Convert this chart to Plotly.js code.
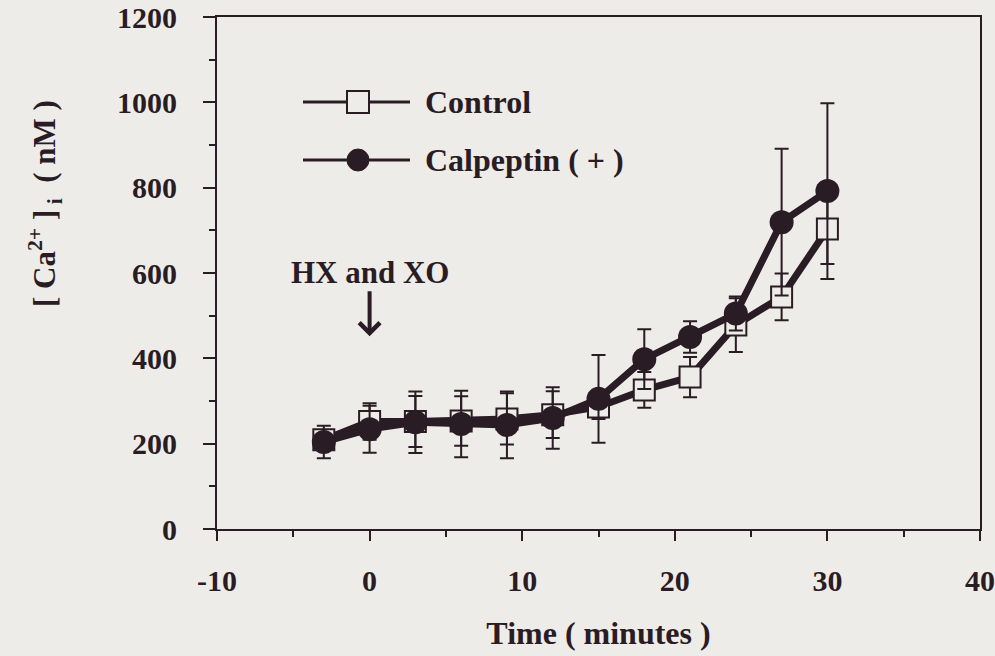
<!DOCTYPE html>
<html>
<head>
<meta charset="utf-8">
<script src="https://cdn.plot.ly/plotly-3.0.1.min.js"></script>
<style>
html,body{margin:0;padding:0;background:#eeece9;}
#chart{width:995px;height:656px;}
</style>
</head>
<body>
<div id="chart"></div>
<script>
// Data
const timeMin = [-3, 0, 3, 6, 9, 12, 15, 18, 21, 24, 27, 30];
const controlCa = [209, 252, 252, 253, 258, 268, 286, 326, 356, 478, 544, 703];
const controlErr = [12, 43, 60, 58, 60, 55, 28, 42, 47, 63, 55, 82];
const calpeptinCa = [204, 234, 250, 246, 244, 260, 305, 398, 450, 505, 719, 792];
const calpeptinErr = [38, 55, 72, 78, 78, 72, 103, 70, 37, 40, 172, 206];
const seriesNames = ['Control', 'Calpeptin ( + )'];
const xTicks = [-10, 0, 10, 20, 30, 40];
const yTicks = [0, 200, 400, 600, 800, 1000, 1200];

const ink = '#2a1c24';
const bg = '#eeece9';
const serif = '"Liberation Serif", "Times New Roman", serif';

const traces = [
  {
    x: timeMin, y: controlCa, name: seriesNames[0], type: 'scatter', mode: 'lines+markers',
    line: {color: ink, width: 7},
    marker: {symbol: 'square', size: 21, color: bg, line: {color: ink, width: 2}},
    error_y: {type: 'data', array: controlErr, visible: true, color: ink, thickness: 2, width: 7},
    showlegend: false
  },
  {
    x: timeMin, y: calpeptinCa, name: seriesNames[1], type: 'scatter', mode: 'lines+markers',
    line: {color: ink, width: 7},
    marker: {symbol: 'circle', size: 24, color: ink, line: {color: ink, width: 0}},
    error_y: {type: 'data', array: calpeptinErr, visible: true, color: ink, thickness: 2, width: 7},
    showlegend: false
  }
];

// legend drawn in paper coordinates (pixel -> paper helpers)
const L = 217, R = 980, T = 17, B = 529;
const px = v => (v - L) / (R - L);
const py = v => (B - v) / (B - T);

const shapes = [
  {type: 'line', xref: 'paper', yref: 'paper', x0: px(303), x1: px(410), y0: py(102), y1: py(102), line: {color: ink, width: 3}},
  {type: 'rect', xref: 'paper', yref: 'paper', x0: px(347), x1: px(369), y0: py(91), y1: py(113), fillcolor: bg, line: {color: ink, width: 2}},
  {type: 'line', xref: 'paper', yref: 'paper', x0: px(303), x1: px(410), y0: py(160), y1: py(160), line: {color: ink, width: 3}},
  {type: 'circle', xref: 'paper', yref: 'paper', x0: px(347), x1: px(369), y0: py(149), y1: py(171), fillcolor: ink, line: {color: ink, width: 1}}
];

const annotations = [
  {xref: 'paper', yref: 'paper', x: px(423), y: py(102), xanchor: 'left', yanchor: 'middle', showarrow: false,
   text: '<b>' + seriesNames[0] + '</b>', font: {family: serif, size: 32, color: ink}},
  {xref: 'paper', yref: 'paper', x: px(423), y: py(160), xanchor: 'left', yanchor: 'middle', showarrow: false,
   text: '<b>' + seriesNames[1] + '</b>', font: {family: serif, size: 32, color: ink}},
  {xref: 'x', yref: 'y', x: 0, y: 452, ax: 0, ay: -64, showarrow: true, arrowhead: 4, arrowsize: 1, arrowwidth: 4,
   arrowcolor: ink, text: '<b>HX and XO</b>', font: {family: serif, size: 31, color: ink}},
  {xref: 'paper', yref: 'paper', x: px(45), y: py(204), xanchor: 'center', yanchor: 'middle', showarrow: false, textangle: -90,
   text: '<b>[ Ca<sup>2+</sup> ]<sub> i</sub>  ( nM )</b>', font: {family: serif, size: 31, color: ink}}
];

const layout = {
  width: 995, height: 656,
  paper_bgcolor: bg, plot_bgcolor: bg,
  margin: {l: L, r: 995 - R, t: T, b: 656 - B, pad: 0},
  showlegend: false,
  font: {family: serif, color: ink},
  xaxis: {
    range: [-10, 40], tickvals: xTicks, ticktext: xTicks.map(v => '<b>' + v + '</b>'),
    ticks: 'outside', ticklen: 10, tickwidth: 2, tickcolor: ink,
    minor: {dtick: 5, ticks: 'outside', ticklen: 6, tickwidth: 2, tickcolor: ink},
    showline: true, linecolor: ink, linewidth: 2, mirror: true,
    showgrid: false, zeroline: false,
    tickfont: {family: serif, size: 30, color: ink},
    ticklabelstandoff: 14,
    title: {text: '<b>Time ( minutes )</b>', font: {family: serif, size: 32, color: ink}, standoff: 26}
  },
  yaxis: {
    range: [0, 1200], tickvals: yTicks, ticktext: yTicks.map(v => '<b>' + v + '</b>'),
    ticks: 'outside', ticklen: 12, tickwidth: 2, tickcolor: ink,
    minor: {dtick: 100, ticks: 'outside', ticklen: 6, tickwidth: 2, tickcolor: ink},
    showline: true, linecolor: ink, linewidth: 2, mirror: true,
    showgrid: false, zeroline: false,
    tickfont: {family: serif, size: 30, color: ink},
    ticklabelstandoff: 20
  },
  shapes: shapes,
  annotations: annotations
};

Plotly.newPlot('chart', traces, layout, {displayModeBar: false, staticPlot: true});
</script>
</body>
</html>
